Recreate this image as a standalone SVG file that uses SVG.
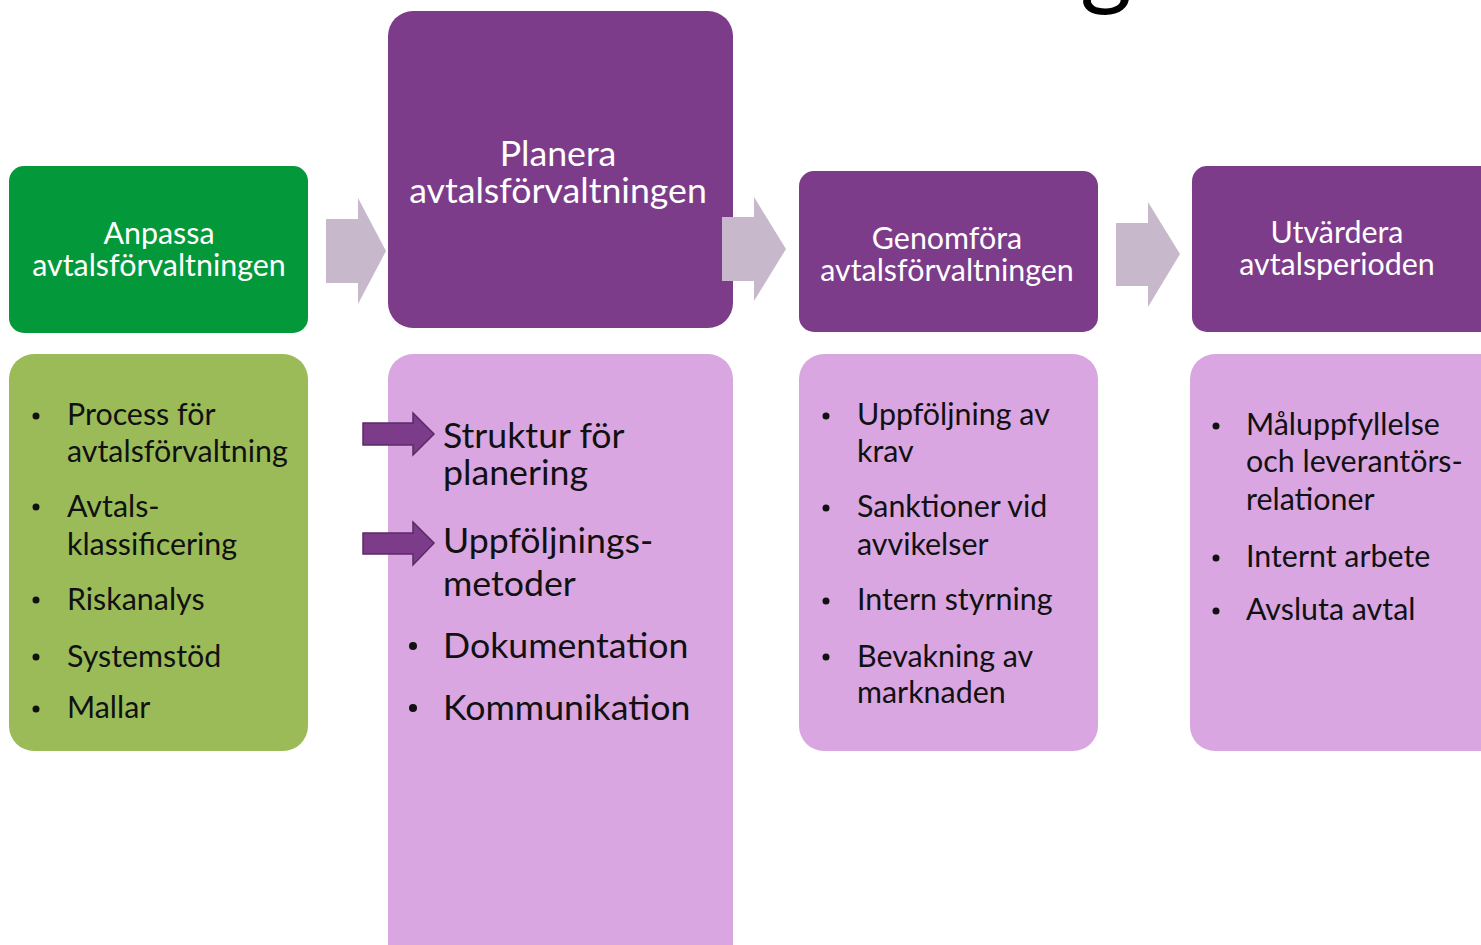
<svg xmlns="http://www.w3.org/2000/svg" width="1481" height="945" viewBox="0 0 1481 945">
  <style>
    .hdr-green { fill: #03993A; }
    .hdr-purple { fill: #7D3C8A; }
    .body-green { fill: #9BBB59; }
    .body-pink { fill: #D9A6E1; }
    .flow { fill: #C7B9CB; }
    .mark { fill: #7D3C8A; stroke: #5B2A66; stroke-width: 1.5; }
    .htxt { font-family: Lato, "Open Sans", sans-serif; fill: #FFFFFF; text-anchor: middle; font-size: 30.4px; }
    .htxt-big { font-size: 35.7px; }
    .btxt { font-family: Lato, "Open Sans", sans-serif; fill: #111111; font-size: 30.4px; }
    .btxt-big { font-size: 35.7px; }
    .dot { fill: #111111; }
  </style>
  <rect width="1481" height="945" fill="#FFFFFF"/>

  <!-- descender of the slide title, cut by the top edge -->
  <text x="1080" y="-3" font-family="Lato, sans-serif" font-size="100" fill="#000000">g</text>

  <!-- phase 1 -->
  <g id="phase-anpassa">
    <rect class="hdr-green" x="9" y="166" width="299" height="167" rx="15"/>
    <text class="htxt"><tspan x="159" y="244">Anpassa</tspan><tspan x="159" y="276">avtalsförvaltningen</tspan></text>
  </g>
  <g id="list-anpassa">
    <rect class="body-green" x="9" y="354" width="299" height="397" rx="25"/>
    <g class="dot">
      <circle cx="36" cy="416" r="3.5"/>
      <circle cx="36" cy="507" r="3.5"/>
      <circle cx="36" cy="600" r="3.5"/>
      <circle cx="36" cy="657" r="3.5"/>
      <circle cx="36" cy="709" r="3.5"/>
    </g>
    <text class="btxt"><tspan x="67" y="425">Process för</tspan><tspan x="67" y="462">avtalsförvaltning</tspan></text>
    <text class="btxt"><tspan x="67" y="517">Avtals-</tspan><tspan x="67" y="555">klassificering</tspan></text>
    <text class="btxt" x="67" y="610">Riskanalys</text>
    <text class="btxt" x="67" y="667">Systemstöd</text>
    <text class="btxt" x="67" y="718">Mallar</text>
  </g>

  <!-- phase 2 -->
  <g id="phase-planera">
    <rect class="hdr-purple" x="388" y="11" width="345" height="317" rx="25"/>
    <text class="htxt htxt-big"><tspan x="558" y="166">Planera</tspan><tspan x="558" y="203">avtalsförvaltningen</tspan></text>
  </g>
  <g id="list-planera">
    <rect class="body-pink" x="388" y="354" width="345" height="620" rx="25"/>
    <g class="dot">
      <circle cx="413" cy="646" r="4"/>
      <circle cx="413" cy="708" r="4"/>
    </g>
    <text class="btxt btxt-big"><tspan x="443" y="448">Struktur för</tspan><tspan x="443" y="485">planering</tspan></text>
    <text class="btxt btxt-big"><tspan x="443" y="553">Uppföljnings-</tspan><tspan x="443" y="596">metoder</tspan></text>
    <text class="btxt btxt-big" x="443" y="658">Dokumentation</text>
    <text class="btxt btxt-big" x="443" y="720">Kommunikation</text>
  </g>

  <!-- phase 3 -->
  <g id="phase-genomfora">
    <rect class="hdr-purple" x="799" y="171" width="299" height="161" rx="15"/>
    <text class="htxt"><tspan x="947" y="249">Genomföra</tspan><tspan x="947" y="281">avtalsförvaltningen</tspan></text>
  </g>
  <g id="list-genomfora">
    <rect class="body-pink" x="799" y="354" width="299" height="397" rx="25"/>
    <g class="dot">
      <circle cx="826" cy="416" r="3.5"/>
      <circle cx="826" cy="508" r="3.5"/>
      <circle cx="826" cy="601" r="3.5"/>
      <circle cx="826" cy="657" r="3.5"/>
    </g>
    <text class="btxt"><tspan x="857" y="425">Uppföljning av</tspan><tspan x="857" y="462">krav</tspan></text>
    <text class="btxt"><tspan x="857" y="517">Sanktioner vid</tspan><tspan x="857" y="555">avvikelser</tspan></text>
    <text class="btxt" x="857" y="610">Intern styrning</text>
    <text class="btxt"><tspan x="857" y="667">Bevakning av</tspan><tspan x="857" y="703">marknaden</tspan></text>
  </g>

  <!-- phase 4 -->
  <g id="phase-utvardera">
    <rect class="hdr-purple" x="1192" y="166" width="320" height="166" rx="15"/>
    <text class="htxt"><tspan x="1337" y="243">Utvärdera</tspan><tspan x="1337" y="275">avtalsperioden</tspan></text>
  </g>
  <g id="list-utvardera">
    <rect class="body-pink" x="1190" y="354" width="320" height="397" rx="25"/>
    <g class="dot">
      <circle cx="1216" cy="426" r="3.5"/>
      <circle cx="1216" cy="558" r="3.5"/>
      <circle cx="1216" cy="611" r="3.5"/>
    </g>
    <text class="btxt"><tspan x="1246" y="435">Måluppfyllelse</tspan><tspan x="1246" y="472">och leverantörs-</tspan><tspan x="1246" y="510">relationer</tspan></text>
    <text class="btxt" x="1246" y="567">Internt arbete</text>
    <text class="btxt" x="1246" y="620">Avsluta avtal</text>
  </g>

  <!-- flow connectors, drawn over the boxes -->
  <g id="connectors">
    <polygon class="flow" points="326,219 358,219 358,198 386,251 358,304 358,283 326,283"/>
    <polygon class="flow" points="722,217 754,217 754,197 786,249 754,301 754,281 722,281"/>
    <polygon class="flow" points="1116,223 1148,223 1148,202 1180,254 1148,307 1148,286 1116,286"/>
    <polygon class="mark" points="363,423 413,423 413,413 434,434 413,455 413,445 363,445"/>
    <polygon class="mark" points="363,533 413,533 413,522 434,543 413,565 413,554 363,554"/>
  </g>
</svg>
